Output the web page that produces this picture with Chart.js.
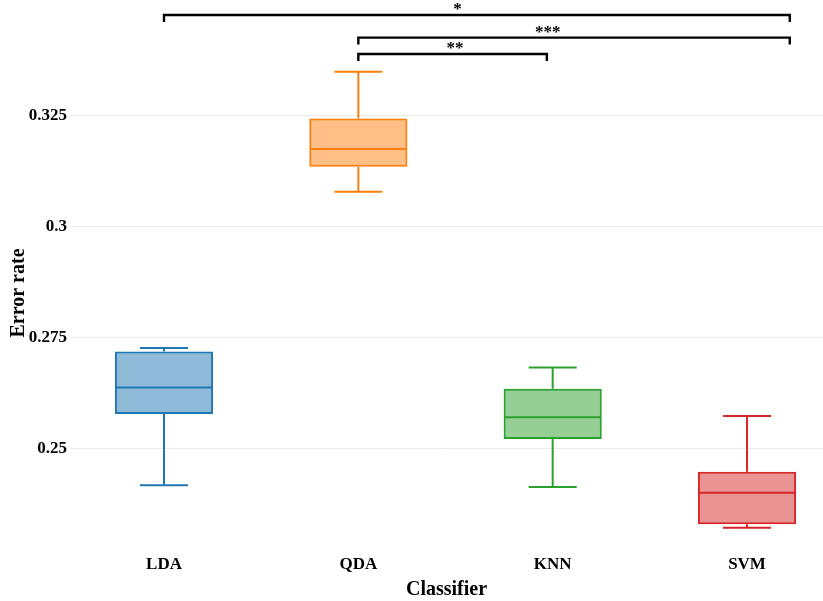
<!DOCTYPE html>
<html>
<head>
<meta charset="utf-8">
<script src="https://cdn.jsdelivr.net/npm/chart.js@4"></script>
<style>
  html, body { margin: 0; padding: 0; background: #fff; }
  #wrap { width: 823px; height: 601px; position: relative; }
</style>
</head>
<body>
<div id="wrap"><canvas id="c" width="823" height="601"></canvas></div>
<script>
// ---- data ----
const categories = ['LDA', 'QDA', 'KNN', 'SVM'];
const whiskerLow  = [0.2417, 0.3078, 0.2413, 0.2321];
const quartile1   = [0.2577, 0.3134, 0.2521, 0.2329];
const medians     = [0.2637, 0.3174, 0.2570, 0.2400];
const quartile3   = [0.2718, 0.3243, 0.2634, 0.2447];
const whiskerHigh = [0.2726, 0.3348, 0.2682, 0.2573];
const boxColors   = ['#1f77b4', '#ff7f0e', '#2ca02c', '#d62728'];
const boxFills    = ['rgba(31,119,180,0.5)', 'rgba(255,127,14,0.5)', 'rgba(44,160,44,0.5)', 'rgba(214,39,40,0.5)'];
const yTickValues = [0.25, 0.275, 0.3, 0.325];
const yTickLabels = ['0.25', '0.275', '0.3', '0.325'];
// significance brackets
const bracketFrom  = [0, 1, 1];
const bracketTo    = [3.22, 3.22, 1.97];
const bracketLevel = [0.3476, 0.3425, 0.3388];
const bracketText  = ['*', '***', '**'];
const bracketTextX = [1.51, 1.975, 1.497];

const FONT = '"Liberation Serif", "Times New Roman", serif';

const boxPlugin = {
  id: 'boxExtras',
  afterDatasetsDraw(chart) {
    const ctx = chart.ctx;
    const xs = chart.scales.x, ys = chart.scales.y;
    const meta = chart.getDatasetMeta(0);
    ctx.save();
    categories.forEach((c, i) => {
      const bar = meta.data[i];
      const w = bar.width;
      const cx = xs.getPixelForValue(i);
      const capHalf = w * 0.245;
      ctx.strokeStyle = boxColors[i];
      ctx.lineWidth = 2;
      ctx.lineCap = 'butt';
      // median
      const ym = ys.getPixelForValue(medians[i]);
      ctx.beginPath();
      ctx.moveTo(cx - w / 2 + 1, ym);
      ctx.lineTo(cx + w / 2 - 1, ym);
      ctx.stroke();
      // whiskers
      const yq1 = ys.getPixelForValue(quartile1[i]);
      const yq3 = ys.getPixelForValue(quartile3[i]);
      const ylo = ys.getPixelForValue(whiskerLow[i]);
      const yhi = ys.getPixelForValue(whiskerHigh[i]);
      ctx.beginPath();
      ctx.moveTo(cx, yq1); ctx.lineTo(cx, ylo);
      ctx.moveTo(cx - capHalf, ylo); ctx.lineTo(cx + capHalf, ylo);
      ctx.moveTo(cx, yq3); ctx.lineTo(cx, yhi);
      ctx.moveTo(cx - capHalf, yhi); ctx.lineTo(cx + capHalf, yhi);
      ctx.stroke();
    });
    // brackets
    ctx.strokeStyle = '#000';
    ctx.fillStyle = '#000';
    ctx.lineWidth = 2.4;
    ctx.font = 'bold 17px ' + FONT;
    ctx.textAlign = 'center';
    ctx.textBaseline = 'middle';
    bracketText.forEach((t, i) => {
      const x1 = xs.getPixelForValue(bracketFrom[i]);
      const x2 = xs.getPixelForValue(bracketTo[i]);
      const y = ys.getPixelForValue(bracketLevel[i]);
      ctx.beginPath();
      ctx.moveTo(x1, y + 7);
      ctx.lineTo(x1, y);
      ctx.lineTo(x2, y);
      ctx.lineTo(x2, y + 7);
      ctx.stroke();
      ctx.fillText(t, xs.getPixelForValue(bracketTextX[i]), y - 5);
    });
    ctx.restore();
  }
};

new Chart(document.getElementById('c'), {
  type: 'bar',
  data: {
    datasets: [{
      data: categories.map((c, i) => ({ x: i, y: [quartile1[i], quartile3[i]] })),
      backgroundColor: boxFills,
      borderColor: boxColors,
      borderWidth: 2,
      borderSkipped: false,
      categoryPercentage: 1,
      barPercentage: 0.505
    }]
  },
  options: {
    responsive: false,
    animation: false,
    devicePixelRatio: 1,
    layout: { padding: { top: 41, right: 0, left: 0, bottom: 0 } },
    plugins: { legend: { display: false }, tooltip: { enabled: false } },
    scales: {
      x: {
        type: 'linear',
        offset: false,
        min: -0.4837,
        max: 3.391,
        afterBuildTicks: (s) => { s.ticks = categories.map((c, i) => ({ value: i })); },
        afterFit: (s) => { s.height = 56; },
        ticks: {
          callback: (v) => categories[v],
          color: '#000',
          font: { family: FONT, size: 17, weight: 'bold' },
          padding: 9,
          maxRotation: 0,
          autoSkip: false
        },
        grid: { display: false, drawTicks: false, offset: false },
        border: { display: false },
        title: {
          display: true,
          text: 'Classifier',
          color: '#000',
          font: { family: FONT, size: 20, weight: 'bold', lineHeight: 1.1 },
          padding: 0
        }
      },
      y: {
        type: 'linear',
        min: 0.228221,
        max: 0.341734,
        afterBuildTicks: (s) => { s.ticks = yTickValues.map(v => ({ value: v })); },
        afterFit: (s) => { s.width = 70; },
        ticks: {
          callback: (v) => yTickLabels[yTickValues.indexOf(v)],
          color: '#000',
          font: { family: FONT, size: 17, weight: 'bold' },
          padding: 3
        },
        grid: { color: '#ebebeb', lineWidth: 1, drawTicks: false },
        border: { display: false },
        title: {
          display: true,
          text: 'Error rate',
          color: '#000',
          font: { family: FONT, size: 20, weight: 'bold' },
          padding: { top: 7, bottom: 0 }
        }
      }
    }
  },
  plugins: [boxPlugin]
});
</script>
</body>
</html>
